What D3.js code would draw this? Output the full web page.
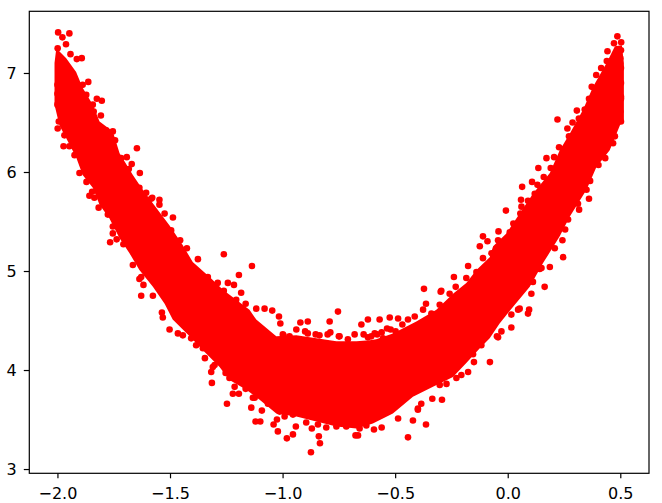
<!DOCTYPE html>
<html><head><meta charset="utf-8">
<script src="https://cdnjs.cloudflare.com/ajax/libs/d3/7.8.5/d3.min.js"></script>
<style>html,body{margin:0;padding:0;background:#fff}svg{display:block}text{font-family:"DejaVu Sans",sans-serif}</style>
</head><body><svg id="c" width="662" height="503"></svg>
<script>
const xTicks=[-2,-1.5,-1,-0.5,0,0.5];
const yTicks=[3,4,5,6,7];
const xDomain=[-2.125,0.6275];
const yDomain=[2.957,7.623];
// dense core of the cloud: outline
const upperX=[-2.013,-2.005,-1.961,-1.917,-1.888,-1.843,-1.813,-1.754,-1.724,-1.665,-1.621,-1.578,-1.502,-1.443,-1.399,-1.324,-1.265,-1.206,-1.147,-1.117,-1.028,-0.939,-0.850,-0.761,-0.672,-0.613,-0.584,-0.510,-0.406,-0.317,-0.243,-0.184,-0.139,-0.08,-0.065,-0.006,0.053,0.112,0.187,0.231,0.276,0.335,0.379,0.439,0.476,0.507,0.516];
const upperY=[7.1,7.25,7.15,7.01,6.85,6.68,6.51,6.41,6.19,5.97,5.82,5.69,5.46,5.26,5.09,4.94,4.81,4.71,4.61,4.51,4.34,4.35,4.32,4.29,4.29,4.30,4.31,4.37,4.49,4.61,4.77,4.88,5.01,5.14,5.25,5.38,5.58,5.78,5.99,6.22,6.39,6.63,6.86,7.10,7.27,7.28,7.1];
const lowerX=[-2.013,-1.991,-1.961,-1.917,-1.888,-1.843,-1.813,-1.769,-1.724,-1.68,-1.636,-1.576,-1.524,-1.488,-1.413,-1.354,-1.28,-1.236,-1.161,-1.102,-1.028,-0.939,-0.85,-0.761,-0.672,-0.599,-0.51,-0.421,-0.332,-0.243,-0.184,-0.124,-0.08,-0.036,0.024,0.098,0.157,0.231,0.276,0.35,0.394,0.453,0.498,0.516];
const lowerY=[6.68,6.47,6.34,6.15,5.97,5.84,5.67,5.53,5.33,5.18,5.01,4.84,4.67,4.51,4.34,4.20,4.03,3.90,3.80,3.70,3.56,3.53,3.48,3.43,3.41,3.46,3.56,3.73,3.83,3.93,4.07,4.22,4.32,4.47,4.64,4.84,5.08,5.35,5.55,5.82,6.05,6.22,6.47,6.53];
// individually visible points around the core
const pointX=[-1.997,-1.947,-1.978,-1.962,-1.999,-1.942,-1.892,-1.914,-1.863,-1.825,-1.803,-1.807,-1.999,-1.973,-1.947,-1.647,-1.692,-1.670,-1.634,-1.902,-1.871,-1.858,-1.836,-1.817,-1.776,-1.766,-1.737,-1.754,-1.547,-1.579,-1.487,-1.495,-1.455,-1.425,
-1.261,-1.136,-1.194,-1.243,-1.216,-1.376,-1.184,-1.206,-1.117,-1.08,-1.046,-1.016,-1.010,-0.921,-0.888,-0.791,-0.754,-0.939,-0.996,-0.836,-0.788,-0.750,-1.628,-1.636,-1.618,-1.628,-1.576,-1.665,-1.536,-1.532,-1.502,-1.443,-1.384,-1.345,-1.314,-1.310,-1.317,-1.247,-1.221,-1.194,-1.139,-1.120,-1.099,-1.092,-1.04,-1.025,-1.021,-0.981,-0.954,-0.941,-0.895,-0.870,-0.839,-0.834,-0.874,-0.806,-0.761,-1.013,-1.065,-1.124,
-0.372,-0.363,-0.239,-0.176,-0.110,-0.124,-0.295,-0.524,-0.569,-0.621,-0.650,-0.487,-0.443,-0.536,-0.68,-0.606,-0.554,-0.079,-0.176,-0.150,-0.228,-0.272,-0.292,-0.335,-0.363,-0.443,-0.421,-0.56,-0.594,-0.665,-0.676,-0.487,-0.399,-0.717,0.090,0.095,0.164,0.016,-0.043,0.053,0.112,0.142,
0.487,0.504,0.472,0.443,0.44,0.415,0.393,0.373,0.361,0.503,0.503,0.307,0.221,0.265,0.288,0.468,0.433,0.403,0.228,0.172,0.206,0.136,0.191,0.108,0.064,0.059,-0.008,0.361,0.317,0.255,0.243,0.366,-0.041,-0.09,0.025,0.056,
-1.888,-1.872,-1.843,-1.839,-2,-2,-2,-1.994,-1.969,-1.924,-1.846,-1.754,-1.707,-1.754,-1.744,-1.783,-1.717,-1.683,-1.636,-1.606,
-1.584,-1.547,-1.524,-1.488,-1.332,-1.288,-1.261,-1.164,-1.465,-1.406,-1.354,-1.302,-1.253,-1.236,-1.213,-1.164,
-0.999,-0.969,-0.888,-0.853,-0.747,-0.71,-0.621,-1.132,-1.061,-1.016,-0.991,-0.954,-0.843,-0.717,-0.658,-0.628,
-0.468,-0.413,-0.376,-0.339,-0.298,-0.302,-0.258,-0.231,-0.184,-0.139,-0.591,-0.498,-0.399,-0.384,-0.302,-0.206,-0.154,-0.117,
0.342,0.316,0.272,0.246,0.16,0.132,0.12,0.09,0.061,0.009,-0.043,-0.072,-0.11,0.503,0.503,0.503,0.5,0.503,0.5,0.476,0.35,0.312,0.268,0.209,0.246,0.187,0.15,0.105,0.046,0.016,-0.028,-0.048,
-0.58,-0.56,-0.52,-0.64,-0.90,-0.80];
const pointY=[7.41,7.40,7.36,7.29,7.25,7.19,7.15,7.14,6.91,6.74,6.72,6.57,6.44,6.26,6.26,6.24,6.15,6.08,5.99,5.99,5.90,5.76,5.74,5.64,5.57,5.29,5.32,5.45,5.72,5.74,5.54,5.41,5.31,5.23,
5.17,5.05,4.96,4.88,4.86,5.12,4.78,4.71,4.62,4.62,4.60,4.54,4.47,4.48,4.49,4.49,4.59,4.41,4.35,4.35,4.38,4.34,4.94,4.92,4.86,4.75,4.75,5.06,4.58,4.53,4.41,4.35,4.25,4.12,3.87,4.03,3.98,3.66,3.76,3.76,3.62,3.48,3.48,3.59,3.45,3.50,3.38,3.31,3.35,3.43,3.47,3.41,3.33,3.26,3.17,3.42,3.43,3.58,3.66,3.72,
4.82,4.67,4.94,5.05,5.35,5.25,4.80,4.53,4.51,4.51,4.46,4.52,4.51,4.42,4.36,4.34,4.32,4.08,3.98,4.08,3.92,3.86,3.70,3.71,3.45,3.32,3.49,3.42,3.40,3.34,3.34,3.51,3.61,3.44,4.57,4.61,4.84,4.43,4.33,4.62,4.89,5.02,
7.37,7.31,7.30,7.22,7.12,7.05,6.98,6.86,6.74,6.76,6.51,6.62,6.53,6.44,6.50,6.29,6.14,6.07,6.25,6.14,6.15,6.04,6.04,5.90,5.85,5.72,5.61,5.73,5.62,5.42,5.31,5.91,5.40,5.30,5.48,5.58,
6.88,6.78,6.68,6.61,6.88,6.79,6.68,6.51,6.37,6.17,5.80,5.38,5.27,6.41,6.32,6.42,6.14,6.03,5.84,5.79,
5.73,5.67,5.58,5.33,4.94,4.88,4.80,4.67,4.37,4.32,4.22,4.05,3.97,3.92,3.83,3.81,
4.36,4.34,4.37,4.36,4.34,4.31,4.33,3.72,3.68,3.59,3.53,3.55,3.45,3.43,3.41,3.44,
4.46,4.54,4.61,4.57,4.79,4.66,4.77,4.84,4.93,4.99,4.37,4.39,3.60,3.66,3.85,3.95,4.16,4.25,
6.63,6.54,6.36,6.23,5.95,5.87,5.78,5.71,5.65,5.39,5.31,5.18,5.13,7.05,6.90,6.74,6.61,7.23,7.15,6.36,5.82,5.68,5.52,5.23,5.14,5.04,5.03,4.77,4.61,4.56,4.39,4.34,
4.36,4.38,4.41,4.36,4.39,4.36];

const svg=d3.select("#c");
const L=29.3,R=649,T=11.3,B=473.3;
const x=d3.scaleLinear().domain(xDomain).range([L,R]);
const y=d3.scaleLinear().domain(yDomain).range([B,T]);
const outline=upperX.map((d,i)=>[d,upperY[i]]).concat(lowerX.map((d,i)=>[d,lowerY[i]]).reverse());
const line=d3.line().x(d=>x(d[0])).y(d=>y(d[1])).curve(d3.curveLinearClosed);
svg.append("path").datum(outline).attr("d",line).attr("fill","#ff0000");
svg.append("g").selectAll("circle").data(pointX).join("circle")
 .attr("cx",d=>x(d)).attr("cy",(d,i)=>y(pointY[i])).attr("r",3.3).attr("fill","#ff0000");
const fmt=d=>d3.format(".1f")(d).replace("-","\u2212");
const gx=svg.append("g").attr("transform",`translate(0,${B})`).call(d3.axisBottom(x).tickValues(xTicks).tickFormat(fmt).tickSize(5).tickPadding(9));
const gy=svg.append("g").attr("transform",`translate(${L},0)`).call(d3.axisLeft(y).tickValues(yTicks).tickFormat(d3.format("d")).tickSize(5.5).tickPadding(7));
[gx,gy].forEach(g=>{g.select(".domain").remove();g.selectAll("text").attr("font-size",16).attr("fill","#000").style("font-family",'"DejaVu Sans",sans-serif');g.selectAll("line").attr("stroke","#000").attr("stroke-width",1.2);});
svg.append("rect").attr("x",L).attr("y",T).attr("width",R-L).attr("height",B-T).attr("fill","none").attr("stroke","#000").attr("stroke-width",1.2);
</script></body></html>
